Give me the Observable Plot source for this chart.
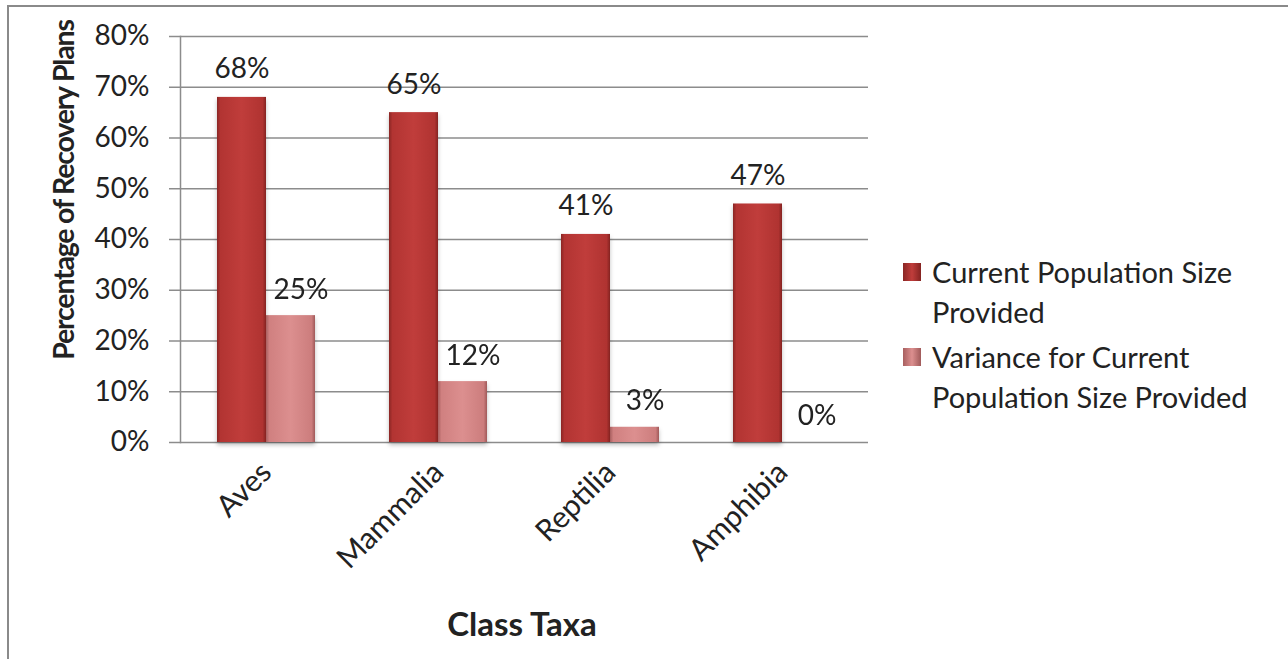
<!DOCTYPE html>
<html>
<head>
<meta charset="utf-8">
<script src="https://cdn.jsdelivr.net/npm/d3@7"></script>
<script src="https://cdn.jsdelivr.net/npm/@observablehq/plot@0.6"></script>
<style>
  body { margin: 0; background: #fff; }
  #wrap { position: relative; width: 1288px; height: 659px; overflow: hidden; font-family: Lato, sans-serif; color: #222; }
  #border { position: absolute; left: 7px; top: 5px; right: -10px; bottom: -10px; border-left: 2px solid #8a8a8a; border-top: 2px solid #8a8a8a; }
  #chart { position: absolute; left: 0; top: 0; }
  #chart svg { overflow: visible; }
  g[aria-label="bar"] { filter: drop-shadow(0px 3px 2px rgba(0,0,0,0.25)); }
  .ytitle { position: absolute; left: 63px; top: 190px; transform: translate(-50%, -50%) rotate(-90deg); white-space: nowrap; font-weight: bold; font-size: 28.5px; letter-spacing: -1.2px; }
  .xtitle { position: absolute; left: 522px; top: 623px; transform: translate(-50%, -50%); white-space: nowrap; font-weight: bold; font-size: 33px; }
  .legend { position: absolute; left: 903px; top: 252px; font-size: 29px; line-height: 40px; }
  .item { position: relative; padding-left: 29px; white-space: nowrap; margin-bottom: 5px; }
  .sw { position: absolute; left: 0; top: 11px; width: 18px; height: 18px; }
</style>
</head>
<body>
<div id="wrap">
  <div id="border"></div>
  <div id="chart"></div>
  <div class="ytitle" id="ytitle"></div>
  <div class="xtitle" id="xtitle"></div>
  <div class="legend" id="legend"></div>
</div>
<script>
const categories = ["Aves", "Mammalia", "Reptilia", "Amphibia"];
const series = ["Current Population Size Provided", "Variance for Current Population Size Provided"];
const legendLines = [["Current Population Size", "Provided"], ["Variance for Current", "Population Size Provided"]];
const currentValues = [0.68, 0.65, 0.41, 0.47];
const varianceValues = [0.25, 0.12, 0.03, 0.00];
const yTicks = [0, 0.1, 0.2, 0.3, 0.4, 0.5, 0.6, 0.7, 0.8];
const yTitle = "Percentage of Recovery Plans";
const xTitle = "Class Taxa";

const rows = [];
categories.forEach((c, i) => {
  rows.push({category: c, series: series[0], value: currentValues[i]});
  rows.push({category: c, series: series[1], value: varianceValues[i]});
});
const pct = d3.format(".0%");

const chart = Plot.plot({
  width: 1288,
  height: 659,
  marginLeft: 179,
  marginRight: 419,
  marginTop: 36,
  marginBottom: 217,
  style: {fontFamily: "Lato, sans-serif", fontSize: "28px", color: "#222", background: "transparent"},
  fx: {domain: categories, padding: 0, label: null},
  x: {domain: series, paddingInner: 0, paddingOuter: 0.742, axis: null},
  y: {domain: [0, 0.8]},
  color: {domain: series, range: ["url(#gCur)", "url(#gVar)"]},
  marks: [
    Plot.gridY(yTicks, {stroke: "#8c8c8c", strokeOpacity: 1, strokeWidth: 1.5}),
    Plot.axisY(yTicks, {tickSize: 11, tickPadding: 20, tickFormat: pct, stroke: "#8c8c8c", strokeWidth: 1.5, strokeOpacity: 1, label: null, fontSize: 28, fill: "#222"}),
    Plot.frame({anchor: "left", facetAnchor: "left", stroke: "#8c8c8c", strokeWidth: 1.5}),
    Plot.barY(rows, {fx: "category", x: "series", y: "value", fill: "series"}),
    Plot.text(rows.filter(d => d.series === series[0]), {fx: "category", x: "series", y: "value", text: d => pct(d.value), dy: -28, lineAnchor: "middle", fontSize: 28, fill: "#222"}),
    Plot.text(rows.filter(d => d.series === series[1]), {fx: "category", x: "series", y: "value", text: d => pct(d.value), dy: -26, dx: 10, lineAnchor: "middle", fontSize: 28, fill: "#222"}),
    Plot.axisFx({anchor: "bottom", tickRotate: -45, tickSize: 0, tickPadding: 25, label: null, fontSize: 30, fill: "#222"})
  ]
});

const ns = "http://www.w3.org/2000/svg";
const defs = document.createElementNS(ns, "defs");
function grad(id, stops) {
  const g = document.createElementNS(ns, "linearGradient");
  g.setAttribute("id", id);
  g.setAttribute("x1", "0"); g.setAttribute("y1", "0");
  g.setAttribute("x2", "1"); g.setAttribute("y2", "0");
  stops.forEach(([o, c]) => {
    const s = document.createElementNS(ns, "stop");
    s.setAttribute("offset", o);
    s.setAttribute("stop-color", c);
    g.appendChild(s);
  });
  defs.appendChild(g);
}
grad("gCur", [["0", "#8a2624"], ["0.07", "#b23432"], ["0.5", "#c03d3b"], ["0.93", "#b03331"], ["1", "#842321"]]);
grad("gVar", [["0", "#a85f5f"], ["0.07", "#d08080"], ["0.5", "#dc8f8f"], ["0.93", "#cc7d7d"], ["1", "#a05a5a"]]);
chart.insertBefore(defs, chart.firstChild);
document.getElementById("chart").appendChild(chart);

document.getElementById("ytitle").textContent = yTitle;
document.getElementById("xtitle").textContent = xTitle;

const legend = document.getElementById("legend");
series.forEach((s, i) => {
  const item = document.createElement("div");
  item.className = "item";
  const sw = document.createElement("div");
  sw.className = "sw";
  sw.style.background = i === 0
    ? "linear-gradient(90deg,#8a2624,#c03d3b 50%,#842321)"
    : "linear-gradient(90deg,#a85f5f,#dc8f8f 50%,#a05a5a)";
  item.appendChild(sw);
  legendLines[i].forEach(line => {
    const l = document.createElement("div");
    l.textContent = line;
    item.appendChild(l);
  });
  legend.appendChild(item);
});
</script>
</body>
</html>
